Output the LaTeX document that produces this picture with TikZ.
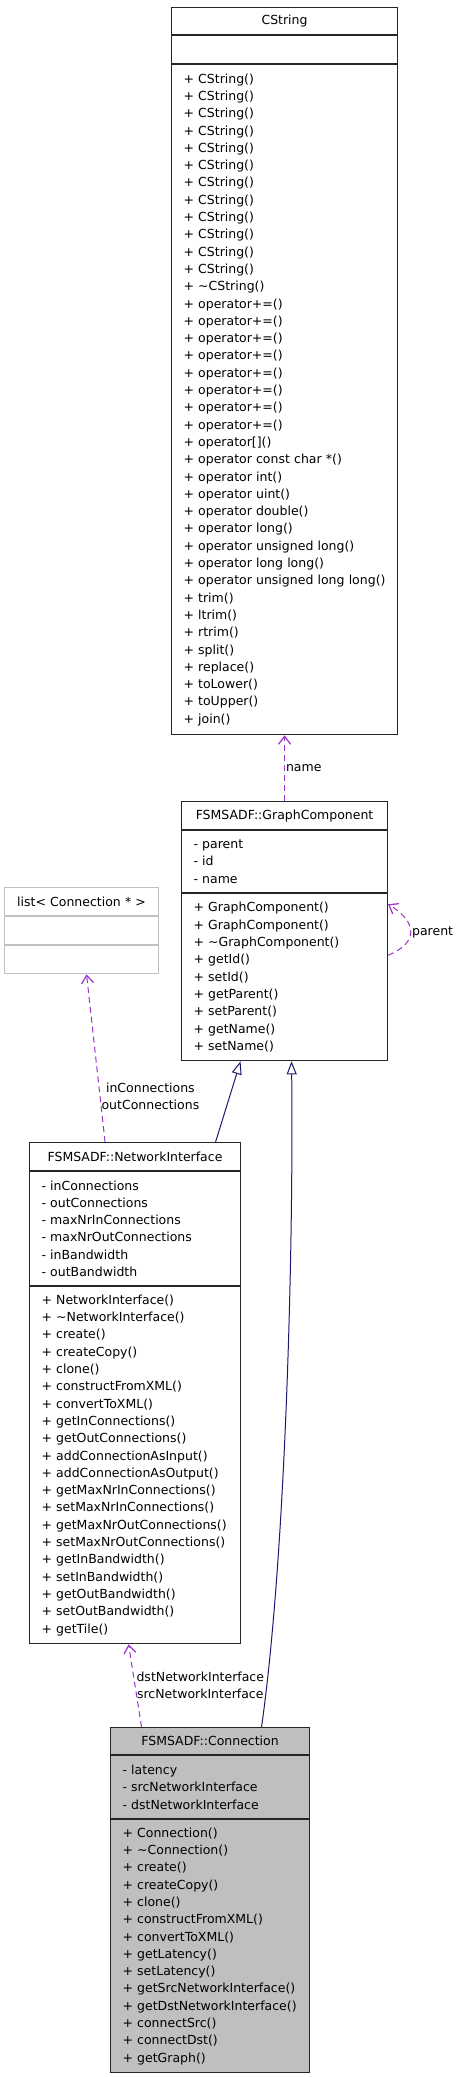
\documentclass[tikz,border=0pt]{standalone}
\usepackage{fontspec}
\setmainfont{DejaVu Sans}
\usetikzlibrary{arrows.meta}
\definecolor{umlgray}{HTML}{BFBFBF}
\definecolor{usecol}{HTML}{9A32CD}
\definecolor{inhcol}{HTML}{191970}
\begin{document}
\begin{tikzpicture}[x=1pt, y=-1pt,
    clspart/.style={draw=black!85, line width=1.1pt, fill=white,
      inner xsep=12pt, inner ysep=0pt, text width=#1, align=left,
      font=\fontsize{12.5}{17.3}\selectfont},
    clshead/.style={clspart=#1, align=center},
    assoc/.style={usecol, line width=1pt, dash pattern=on 6pt off 4pt,
      -{Straight Barb[length=8pt, width=12pt, line width=1.2pt]}},
    inherit/.style={inhcol, line width=1pt,
      -{Triangle[open, length=13pt, width=10pt, fill=white]}},
    lbl/.style={font=\fontsize{12.5}{17}\selectfont, inner sep=1pt, text=black}]
  \useasboundingbox (0,0) rectangle (459,2077);
  % CString
  \node[clshead=202, minimum height=27, anchor=north west] (cs1) at (171,7) {CString};
  \node[clspart=202, minimum height=28, anchor=north] (cs2) at (cs1.south) {};
  \node[clspart=202, minimum height=670, anchor=north] (cs3) at (cs2.south)
    {+ CString()\\+ CString()\\+ CString()\\+ CString()\\+ CString()\\+ CString()\\
     + CString()\\+ CString()\\+ CString()\\+ CString()\\+ CString()\\+ CString()\\
     + \textasciitilde CString()\\
     + operator+=()\\+ operator+=()\\+ operator+=()\\+ operator+=()\\
     + operator+=()\\+ operator+=()\\+ operator+=()\\+ operator+=()\\
     + operator[]()\\+ operator const char *()\\+ operator int()\\+ operator uint()\\
     + operator double()\\+ operator long()\\+ operator unsigned long()\\
     + operator long long()\\+ operator unsigned long long()\\
     + trim()\\+ ltrim()\\+ rtrim()\\+ split()\\+ replace()\\+ toLower()\\
     + toUpper()\\+ join()};
  % GraphComponent
  \node[clshead=182, minimum height=28, anchor=north west] (gc1) at (181,801) {FSMSADF::GraphComponent};
  \node[clspart=182, minimum height=62, anchor=north] (gc2) at (gc1.south)
    {- parent\\- id\\- name};
  \node[clspart=182, minimum height=167, anchor=north] (gc3) at (gc2.south)
    {+ GraphComponent()\\+ GraphComponent()\\+ \textasciitilde GraphComponent()\\
     + getId()\\+ setId()\\+ getParent()\\+ setParent()\\+ getName()\\+ setName()};
  % list< Connection * >
  \node[clshead=130, draw=umlgray, minimum height=28, anchor=north west] (lst1) at (4,887) {list< Connection * >};
  \node[clspart=130, draw=umlgray, minimum height=28, anchor=north] (lst2) at (lst1.south) {};
  \node[clspart=130, draw=umlgray, minimum height=28, anchor=north] (lst3) at (lst2.south) {};
  % NetworkInterface
  \node[clshead=187, minimum height=28, anchor=north west] (ni1) at (29,1142) {FSMSADF::NetworkInterface};
  \node[clspart=187, minimum height=114, anchor=north] (ni2) at (ni1.south)
    {- inConnections\\- outConnections\\- maxNrInConnections\\
     - maxNrOutConnections\\- inBandwidth\\- outBandwidth};
  \node[clspart=187, minimum height=357, anchor=north] (ni3) at (ni2.south)
    {+ NetworkInterface()\\+ \textasciitilde NetworkInterface()\\+ create()\\
     + createCopy()\\+ clone()\\+ constructFromXML()\\+ convertToXML()\\
     + getInConnections()\\+ getOutConnections()\\+ addConnectionAsInput()\\
     + addConnectionAsOutput()\\+ getMaxNrInConnections()\\
     + setMaxNrInConnections()\\+ getMaxNrOutConnections()\\
     + setMaxNrOutConnections()\\+ getInBandwidth()\\+ setInBandwidth()\\
     + getOutBandwidth()\\+ setOutBandwidth()\\+ getTile()};
  % Connection（灰色）
  \node[clshead=175, fill=umlgray, minimum height=27, anchor=north west] (cn1) at (110,1727) {FSMSADF::Connection};
  \node[clspart=175, fill=umlgray, minimum height=63, anchor=north] (cn2) at (cn1.south)
    {- latency\\- srcNetworkInterface\\- dstNetworkInterface};
  \node[clspart=175, fill=umlgray, minimum height=253, anchor=north] (cn3) at (cn2.south)
    {+ Connection()\\+ \textasciitilde Connection()\\+ create()\\+ createCopy()\\
     + clone()\\+ constructFromXML()\\+ convertToXML()\\+ getLatency()\\
     + setLatency()\\+ getSrcNetworkInterface()\\+ getDstNetworkInterface()\\
     + connectSrc()\\+ connectDst()\\+ getGraph()};
  % 关联
  \draw[assoc] (gc1.north) -- node[lbl, right, pos=0.5] {name} (cs3.south);
  \draw[assoc] ([xshift=-30]ni1.north) -- node[lbl, right, align=center, pos=0.27]
    {inConnections\\outConnections} ([xshift=5]lst3.south);
  \draw[assoc] ([xshift=-68.5]cn1.north) -- node[lbl, right, align=center, pos=0.5]
    {dstNetworkInterface\\srcNetworkInterface} ([xshift=-6.5]ni3.south);
  \draw[assoc] ([yshift=-62]gc3.north east) .. controls +(30,-12) and +(30,18) ..
    node[lbl, right, pos=0.5] {parent} ([yshift=-11]gc3.north east);
  % 继承
  \draw[inherit] ([xshift=80.5]ni1.north) -- ([xshift=-44]gc3.south);
  \draw[inherit] ([xshift=51.5]cn1.north) .. controls +(24,-170) and +(2,190) ..
    ([xshift=7]gc3.south);
\end{tikzpicture}
\end{document}
